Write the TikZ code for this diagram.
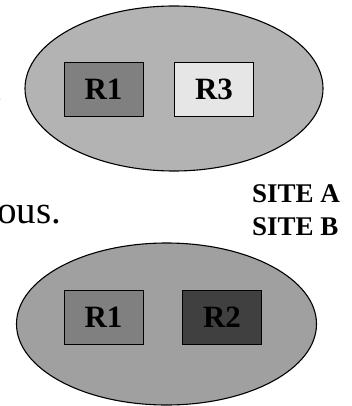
\documentclass[tikz,border=0pt]{standalone}
\usepackage{fontspec}
\setmainfont{Liberation Serif}
\usetikzlibrary{shapes.geometric}
\definecolor{siteAfill}{HTML}{B3B3B3}
\definecolor{siteBfill}{HTML}{A0A0A0}
\definecolor{midgray}{HTML}{808080}
\definecolor{lightgray}{HTML}{E6E6E6}
\definecolor{darkgray}{HTML}{404040}
\tikzset{
  site/.style={ellipse, draw=black, line width=1.1pt, inner sep=0pt},
  relbox/.style={rectangle, draw=black, line width=0.9pt, inner sep=0pt,
    minimum width=79pt, minimum height=54pt, font=\fontsize{31}{31}\selectfont\bfseries},
  sitelabel/.style={anchor=base west, inner sep=0pt, font=\fontsize{27}{27}\selectfont\bfseries},
  bodytext/.style={anchor=base west, inner sep=0pt, font=\fontsize{39}{39}\selectfont}
}
\begin{document}
\begin{tikzpicture}[x=1pt,y=-1pt]
\clip (0,0) rectangle (351,406);
\useasboundingbox (0,0) rectangle (351,406);
% top site
\node[site, fill=siteAfill, minimum width=298pt, minimum height=165pt] (siteA) at (174,88.5) {};
\node[relbox, fill=midgray] (aR1) at (103.5,89) {R1};
\node[relbox, fill=lightgray] (aR3) at (214,89) {R3};
% bottom site
\node[site, fill=siteBfill, minimum width=300pt, minimum height=162pt] (siteB) at (166.5,324) {};
\node[relbox, fill=midgray] (bR1) at (103.5,317.5) {R1};
\node[relbox, fill=darkgray] (bR2) at (222,317.5) {R2};
% labels
\node[sitelabel] (labA) at (252,202) {SITE A};
\node[sitelabel] (labB) at (252,235) {SITE B};
% cut-off body text
\node[bodytext, anchor=base east] (dot) at (3,102) {.};
\node[bodytext] (ous) at (-3,223) {ous.};
\end{tikzpicture}
\end{document}
